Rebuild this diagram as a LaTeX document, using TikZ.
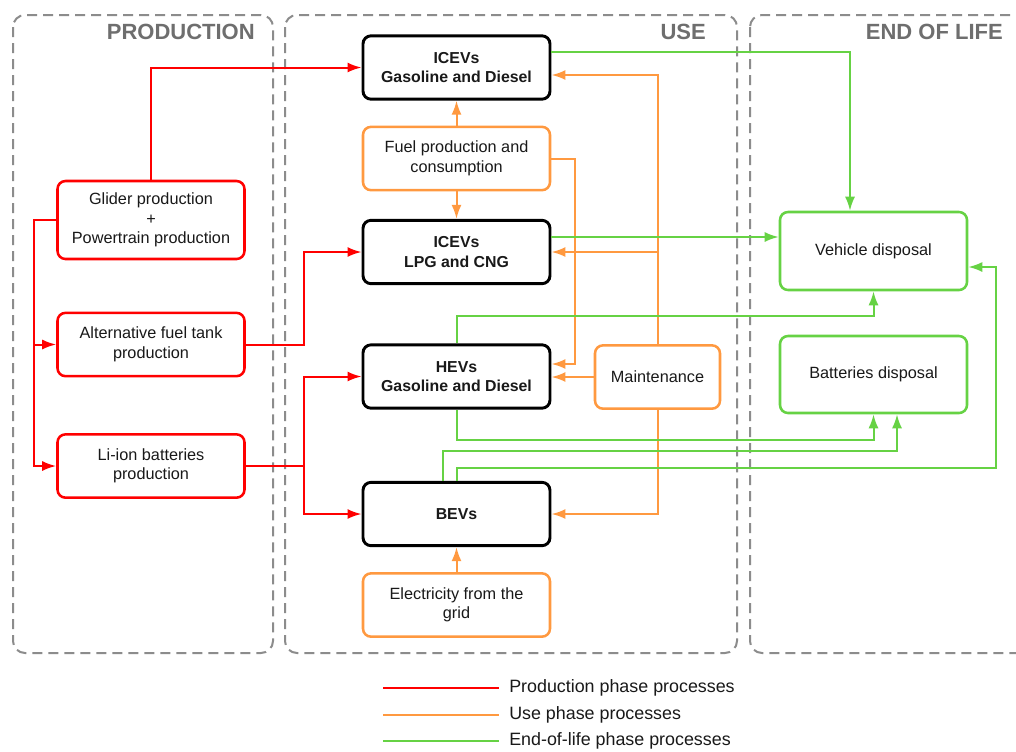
\documentclass[tikz,border=0pt]{standalone}
\usepackage{fontspec}
\setmainfont{Liberation Sans}
\usetikzlibrary{arrows.meta,calc}
\definecolor{pred}{RGB}{255,0,0}
\definecolor{puse}{RGB}{255,153,64}
\definecolor{peol}{RGB}{102,210,68}
\definecolor{pgray}{RGB}{140,140,140}
\definecolor{ptitle}{RGB}{110,110,110}
\definecolor{ptext}{RGB}{25,25,25}
\tikzset{
  panel/.style={draw=pgray,line width=1.5pt,dash pattern=on 7.5pt off 4.5pt,rounded corners=9pt},
  ptitle/.style={anchor=east,text=ptitle,font=\fontsize{16.5}{18}\selectfont\bfseries,inner sep=0pt},
  box/.style={rounded corners=6pt,minimum width=140.25pt,minimum height=47.5pt,inner sep=0pt,align=center,text=ptext,font=\fontsize{12.2}{14.6}\selectfont,fill=white},
  vbox/.style={box,draw=black,line width=2.2pt,font=\fontsize{11.9}{14.6}\selectfont\bfseries},
  rbox/.style={box,draw=pred,line width=1.9pt},
  obox/.style={box,draw=puse,line width=1.9pt},
  gbox/.style={box,draw=peol,line width=1.9pt},
  tip/.style={-{Latex[length=10.5pt,width=7.5pt]}},
  rl/.style={draw=pred,line width=1.5pt},
  ol/.style={draw=puse,line width=1.5pt},
  gl/.style={draw=peol,line width=1.5pt},
  legtext/.style={anchor=west,inner sep=0pt,text=ptext,font=\fontsize{13.4}{15}\selectfont}
}
\begin{document}
\begin{tikzpicture}[x=0.75pt,y=-0.75pt]
\clip (0,0) rectangle (1016,751);
\fill[white] (0,0) rectangle (1016,751);
% panels
\draw[panel] (13,15) rectangle (273,653);
\draw[panel] (285,15) rectangle (737,653);
\draw[panel] (750,15) rectangle (1040,653);
\node[ptitle] (tprod) at (255,32) {PRODUCTION};
\node[ptitle] (tuse) at (706,32) {USE};
\node[ptitle] (teol) at (1003,32) {END OF LIFE};
% production nodes
\node[rbox,minimum height=58.5pt] (glider) at (151,220) {Glider production\\+\\Powertrain production};
\node[rbox] (alt) at (151,344.5) {Alternative fuel tank\\production};
\node[rbox] (li) at (151,466) {Li-ion batteries\\production};
% use nodes
\node[vbox] (icev) at (456.5,67.5) {ICEVs\\Gasoline and Diesel};
\node[obox] (fuel) at (456.5,158.5) {Fuel production and\\consumption};
\node[vbox] (lpg) at (456.5,252) {ICEVs\\LPG and CNG};
\node[vbox] (hev) at (456.5,376.5) {HEVs\\Gasoline and Diesel};
\node[obox,minimum width=93.75pt] (maint) at (657.5,377) {Maintenance};
\node[vbox] (bev) at (456.5,514) {BEVs};
\node[obox] (elec) at (456.5,605) {Electricity from the\\grid};
% end of life nodes
\node[gbox,minimum height=58.5pt] (vd) at (873.5,251) {Vehicle disposal};
\node[gbox,minimum height=57.75pt] (bd) at (873.5,374.5) {Batteries disposal};
% red connectors
\coordinate (pj) at (34,220);
\coordinate (rx) at (304,0);
\draw[rl,tip] (glider.north) |- (icev.west);
\draw[rl,tip] (glider.west) -- (pj) |- (alt.west);
\draw[rl,tip] (pj) |- (li.west);
\draw[rl,tip] (alt.east) -- (alt.east -| rx) |- (lpg.west);
\coordinate (lj) at (li.east -| rx);
\draw[rl,tip] (li.east) -- (lj) |- (hev.west);
\draw[rl,tip] (lj) |- (bev.west);
% orange connectors
\draw[ol,tip] (fuel.north) -- (icev.south);
\draw[ol,tip] (fuel.south) -- (lpg.north);
\coordinate (hin) at ($(hev.east)+(0,-12.5)$);
\draw[ol,tip] (fuel.east) -| (575,364) -- (hin);
\draw[ol,tip] (maint.north) |- ($(icev.east)+(0,7.5)$);
\coordinate (mj) at (maint.north |- lpg.east);
\draw[ol,tip] (mj) -- (lpg.east);
\draw[ol,tip] (maint.west) -- (maint.west -| hev.east);
\draw[ol,tip] (maint.south) |- (bev.east);
\draw[ol,tip] (elec.north) -- (bev.south);
% green connectors
\draw[gl,tip] ($(icev.east)+(0,-15.5)$) -| ($(vd.north)+(-23.5,0)$);
\coordinate (g2) at ($(lpg.east)+(0,-15)$);
\draw[gl,tip] (g2) -- (g2 -| vd.west);
\draw[gl,tip] (hev.north) -- ++(0,-27) -| (vd.south);
\draw[gl,tip] (hev.south) -- ++(0,30) -| (bd.south);
\draw[gl,tip] ($(bev.north)+(-13.5,0)$) -- ++(0,-30) -| ($(bd.south)+(23.5,0)$);
\draw[gl,tip] (bev.north) -- ++(0,-13) -| (996,267) -- ($(vd.east)+(0,16)$);
% legend
\coordinate (l1a) at (383,688); \coordinate (l1b) at (499,688);
\coordinate (l2a) at (383,715); \coordinate (l2b) at (499,715);
\coordinate (l3a) at (383,741); \coordinate (l3b) at (499,741);
\draw[rl] (l1a) -- (l1b);
\draw[ol] (l2a) -- (l2b);
\draw[gl] (l3a) -- (l3b);
\node[legtext] (leg1) at (509,688) {Production phase processes};
\node[legtext] (leg2) at (509,715) {Use phase processes};
\node[legtext] (leg3) at (509,741) {End-of-life phase processes};
\end{tikzpicture}
\end{document}
